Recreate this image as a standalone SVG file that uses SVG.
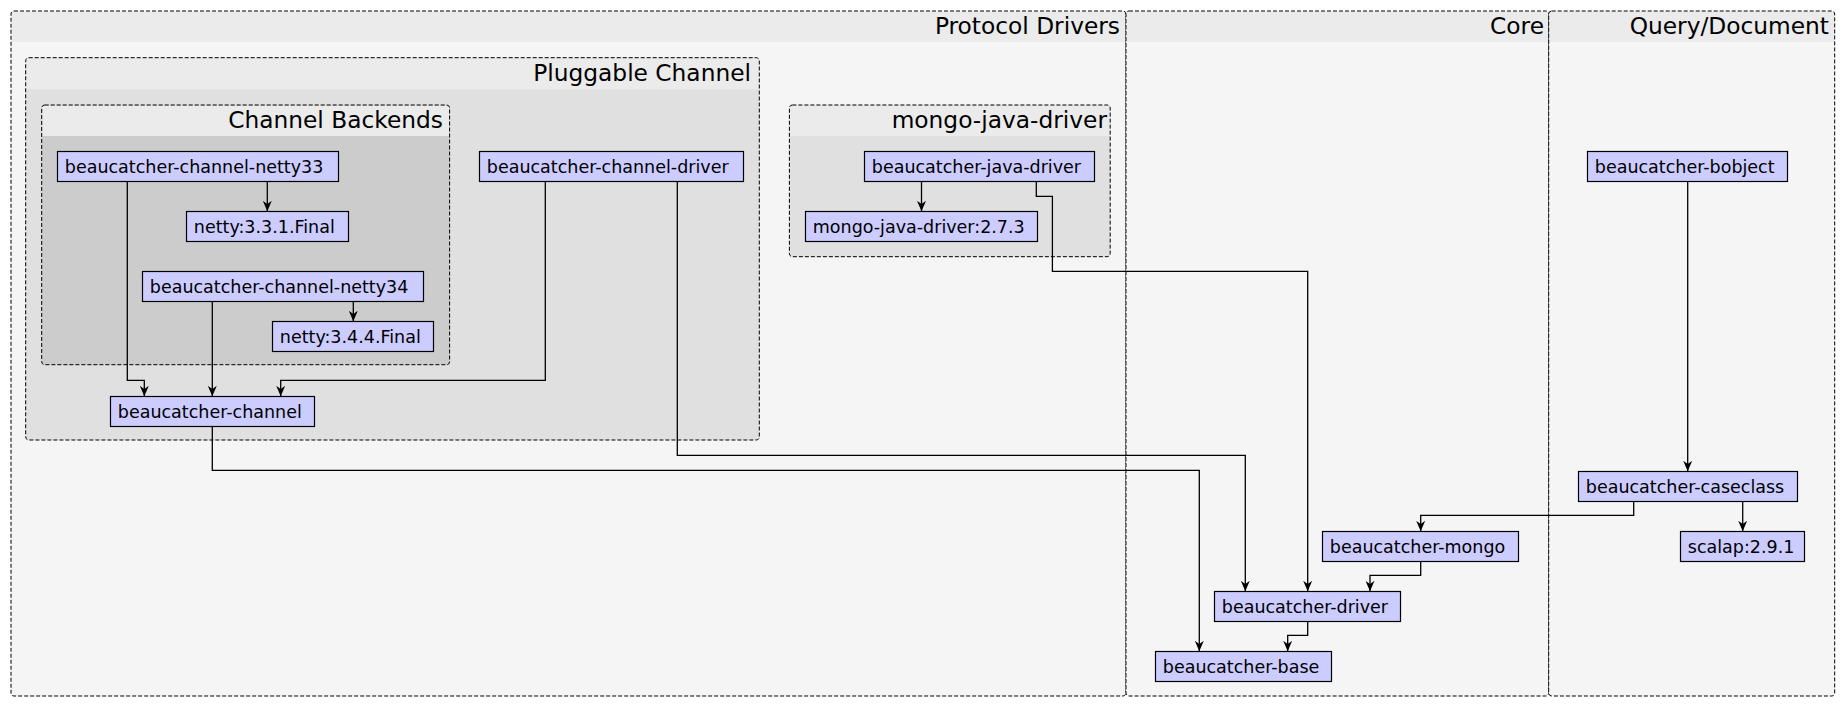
<svg xmlns="http://www.w3.org/2000/svg" width="1845" height="706" viewBox="0 0 1845 706">
<style>
.cb{stroke:#000;stroke-width:1;stroke-dasharray:4,2;fill:none}
.hd{fill:#ebebeb}
.lbl{font-family:"DejaVu Sans",sans-serif;font-size:23.3px;fill:#000;text-anchor:end}
.nd{fill:#ccccff;stroke:#000;stroke-width:1.2}
.nt{font-family:"DejaVu Sans",sans-serif;font-size:17.5px;fill:#000}
.e{fill:none;stroke:#000;stroke-width:1.3;marker-end:url(#arr)}
</style>
<defs>
<marker id="arr" markerUnits="userSpaceOnUse" markerWidth="9" markerHeight="11" refX="4.5" refY="10.5" orient="0" viewBox="0 0 9 11">
<path d="M0,0 L4.5,3.2 L9,0 L4.5,10.5 Z" fill="#000"/>
</marker>
</defs>
<rect width="1845" height="706" fill="#fff"/>
<g id="cluster-protocol-drivers">
<rect x="11" y="11" width="1115" height="685" rx="3" fill="#f5f5f5"/>
<rect x="11.5" y="11.5" width="1114" height="30.5" class="hd"/>
<rect x="11" y="11" width="1115" height="685" rx="3" class="cb"/>
<text x="1120" y="33.7" class="lbl">Protocol Drivers</text>
</g>
<g id="cluster-core">
<rect x="1126" y="11" width="422.7" height="685" rx="3" fill="#f5f5f5"/>
<rect x="1126.5" y="11.5" width="421.7" height="30.5" class="hd"/>
<rect x="1126" y="11" width="422.7" height="685" rx="3" class="cb"/>
<text x="1544" y="33.7" class="lbl">Core</text>
</g>
<g id="cluster-query-document">
<rect x="1548.7" y="11" width="286" height="685" rx="3" fill="#f5f5f5"/>
<rect x="1549.2" y="11.5" width="285" height="30.5" class="hd"/>
<rect x="1548.7" y="11" width="286" height="685" rx="3" class="cb"/>
<text x="1829" y="33.7" class="lbl">Query/Document</text>
</g>
<g id="cluster-pluggable-channel">
<rect x="25.7" y="57.7" width="733.6" height="382.3" rx="3" fill="#e0e0e0"/>
<rect x="26.2" y="58.2" width="732.6" height="31" class="hd"/>
<rect x="25.7" y="57.7" width="733.6" height="382.3" rx="3" class="cb"/>
<text x="751" y="80.5" class="lbl">Pluggable Channel</text>
</g>
<g id="cluster-channel-backends">
<rect x="41.7" y="105" width="407.9" height="259.7" rx="3" fill="#cccccc"/>
<rect x="42.2" y="105.5" width="406.9" height="30.5" class="hd"/>
<rect x="41.7" y="105" width="407.9" height="259.7" rx="3" class="cb"/>
<text x="443" y="127.7" class="lbl">Channel Backends</text>
</g>
<g id="cluster-mongo-java-driver">
<rect x="789.4" y="105" width="320.8" height="151.7" rx="3" fill="#e0e0e0"/>
<rect x="789.9" y="105.5" width="319.8" height="30.5" class="hd"/>
<rect x="789.4" y="105" width="320.8" height="151.7" rx="3" class="cb"/>
<text x="1107" y="127.7" class="lbl">mongo-java-driver</text>
</g>
<g id="connectors">
<path class="e" d="M267.3,181.5 V211.3"/>
<path class="e" d="M353.3,301.5 V321.3"/>
<path class="e" d="M127.3,181.5 V380.3 H144.3 V396.3"/>
<path class="e" d="M212.3,301.5 V396.3"/>
<path class="e" d="M545.3,181.5 V380.3 H280.7 V396.3"/>
<path class="e" d="M212.3,426.5 V470.3 H1199.3 V651.3"/>
<path class="e" d="M677.3,181.5 V455.3 H1245.3 V591.3"/>
<path class="e" d="M921.5,181.5 V211.3"/>
<path class="e" d="M1036.3,181.5 V196.3 H1052.4 V271.3 H1307.7 V591.3"/>
<path class="e" d="M1420.7,561.5 V575.3 H1370 V591.3"/>
<path class="e" d="M1307.7,621.5 V635.3 H1287.7 V651.3"/>
<path class="e" d="M1687.7,181.5 V471.3"/>
<path class="e" d="M1742.7,501.5 V531.3"/>
<path class="e" d="M1633.7,501.5 V515.3 H1420.7 V531.3"/>
</g>
<g id="node-netty33"><rect class="nd" x="57.5" y="151.5" width="281" height="30"/><text class="nt" x="64.8" y="172.5">beaucatcher-channel-netty33</text></g>
<g id="node-netty331"><rect class="nd" x="186.5" y="211.5" width="162" height="30"/><text class="nt" x="193.8" y="232.5">netty:3.3.1.Final</text></g>
<g id="node-netty34"><rect class="nd" x="142.5" y="271.5" width="281" height="30"/><text class="nt" x="149.8" y="292.5">beaucatcher-channel-netty34</text></g>
<g id="node-netty344"><rect class="nd" x="272.5" y="321.5" width="161" height="30"/><text class="nt" x="279.8" y="342.5">netty:3.4.4.Final</text></g>
<g id="node-channel-driver"><rect class="nd" x="479.5" y="151.5" width="264" height="30"/><text class="nt" x="486.8" y="172.5">beaucatcher-channel-driver</text></g>
<g id="node-channel"><rect class="nd" x="110.5" y="396.5" width="204" height="30"/><text class="nt" x="117.8" y="417.5">beaucatcher-channel</text></g>
<g id="node-java-driver"><rect class="nd" x="864.5" y="151.5" width="230" height="30"/><text class="nt" x="871.8" y="172.5">beaucatcher-java-driver</text></g>
<g id="node-mongo-java-driver"><rect class="nd" x="805.5" y="211.5" width="232" height="30"/><text class="nt" x="812.8" y="232.5">mongo-java-driver:2.7.3</text></g>
<g id="node-mongo"><rect class="nd" x="1322.5" y="531.5" width="196" height="30"/><text class="nt" x="1329.8" y="552.5">beaucatcher-mongo</text></g>
<g id="node-driver"><rect class="nd" x="1214.5" y="591.5" width="186" height="30"/><text class="nt" x="1221.8" y="612.5">beaucatcher-driver</text></g>
<g id="node-base"><rect class="nd" x="1155.5" y="651.5" width="176" height="30"/><text class="nt" x="1162.8" y="672.5">beaucatcher-base</text></g>
<g id="node-bobject"><rect class="nd" x="1587.5" y="151.5" width="200" height="30"/><text class="nt" x="1594.8" y="172.5">beaucatcher-bobject</text></g>
<g id="node-caseclass"><rect class="nd" x="1578.5" y="471.5" width="219" height="30"/><text class="nt" x="1585.8" y="492.5">beaucatcher-caseclass</text></g>
<g id="node-scalap"><rect class="nd" x="1680.5" y="531.5" width="124" height="30"/><text class="nt" x="1687.8" y="552.5">scalap:2.9.1</text></g>
</svg>
